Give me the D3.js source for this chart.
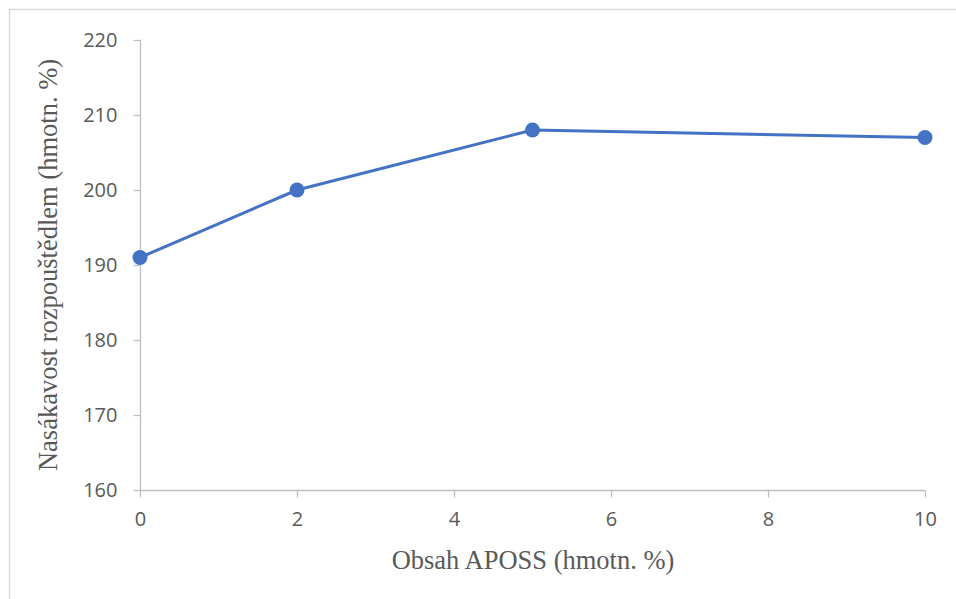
<!DOCTYPE html>
<html><head><meta charset="utf-8">
<script src="https://cdn.jsdelivr.net/npm/d3@7"></script>
<style>body{margin:0;background:#fff}svg{display:block}</style>
</head><body>
<svg id="c" width="956" height="599"></svg>
<script>
const xValues = [0, 2, 5, 10];
const yValues = [191, 200, 208, 207];
const xTicks = [0, 2, 4, 6, 8, 10];
const yTicks = [160, 170, 180, 190, 200, 210, 220];
const xTitle = "Obsah APOSS (hmotn. %)";
const yTitle = "Nasákavost rozpouštědlem (hmotn. %)";

const svg = d3.select("#c");
svg.append("rect").attr("x", 9.5).attr("y", 9.5).attr("width", 1000).attr("height", 1000)
  .attr("fill", "none").attr("stroke", "#d9d9d9").attr("stroke-width", 1.5);

const x = d3.scaleLinear().domain([0, 10]).range([140, 925]);
const y = d3.scaleLinear().domain([160, 220]).range([490, 40]);

const ya = svg.append("g").attr("transform", "translate(140.5,0)")
  .call(d3.axisLeft(y).tickValues(yTicks).tickSize(7).tickPadding(16));
const xa = svg.append("g").attr("transform", "translate(0,490.5)")
  .call(d3.axisBottom(x).tickValues(xTicks).tickSize(7).tickPadding(14));
[ya, xa].forEach(a => {
  a.attr("font-size", 20).attr("font-family", "'Open Sans', Lato, sans-serif");
  a.selectAll("path,line").attr("stroke", "#bfbfbf").attr("stroke-width", 1.3);
  a.selectAll("text").attr("fill", "#595959").style("font-family", "'Open Sans', Lato, sans-serif").style("font-size", "20px");
});
ya.select(".domain").attr("d", "M0,40V490");
xa.select(".domain").attr("d", "M140,0H925");

svg.append("text").attr("x", 533).attr("y", 569).attr("text-anchor", "middle")
  .attr("font-family", "'Liberation Serif', 'Times New Roman', serif").attr("font-size", 26.5)
  .attr("fill", "#595959").text(xTitle);
svg.append("text").attr("transform", "translate(57,265) rotate(-90)").attr("text-anchor", "middle")
  .attr("font-family", "'Liberation Serif', 'Times New Roman', serif").attr("font-size", 26.5)
  .attr("fill", "#595959").text(yTitle);

const data = xValues.map((v, i) => [v, yValues[i]]);
svg.append("path").datum(data).attr("fill", "none").attr("stroke", "#4472C4").attr("stroke-width", 3)
  .attr("stroke-linejoin", "round")
  .attr("d", d3.line().x(d => x(d[0])).y(d => y(d[1])));
svg.selectAll("circle.pt").data(data).enter().append("circle").attr("class", "pt")
  .attr("cx", d => x(d[0])).attr("cy", d => y(d[1])).attr("r", 7.5).attr("fill", "#4472C4");
</script>
</body></html>
